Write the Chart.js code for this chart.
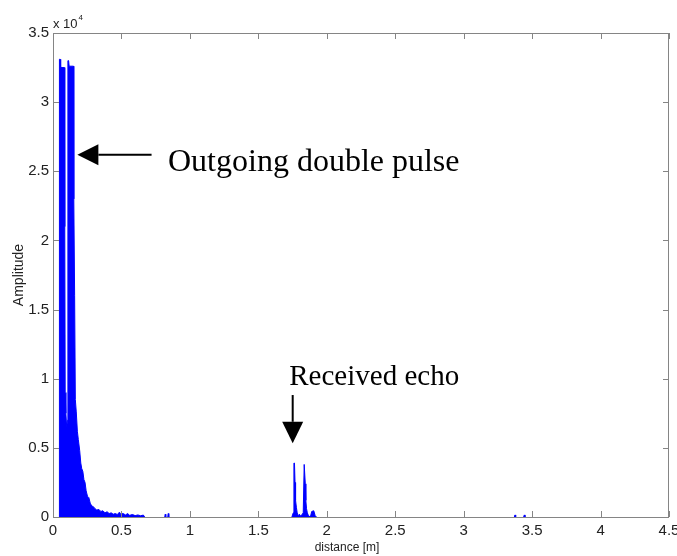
<!DOCTYPE html>
<html>
<head>
<meta charset="utf-8">
<script src="https://cdn.jsdelivr.net/npm/chart.js@4"></script>
<style>
  html, body { margin: 0; padding: 0; background: #fff; }
</style>
</head>
<body>
<canvas id="echoChart" width="677" height="556"></canvas>
<script>
// outgoing double pulse (envelope), distance in m; null = no trace
const pulseDist = [0.045, 0.047, 0.052, 0.056, 0.083, 0.086, 0.089, 0.094, 0.100, 0.106,
  0.109, 0.114, 0.118, 0.150, 0.152, 0.158, 0.163, 0.170, 0.178, 0.185, 0.195, 0.203, 0.210,
  0.218, 0.226, 0.234, 0.242, 0.252, 0.262, 0.272, 0.283, 0.295, 0.307, 0.320, 0.335, 0.350,
  0.365, 0.380, 0.395, 0.410, 0.425, 0.440, 0.455, 0.470, 0.485, 0.495, 0.510, 0.530, 0.545,
  0.560, 0.580, 0.600, 0.620, 0.640, 0.660, 0.670, 0.740,
  0.816, 0.820, 0.824, 0.830, 0.838, 0.842, 0.846, 0.900];
const pulseAmp = [0, 33100, 33100, 32500, 32500, 21000, 9000, 7500, 6500, 7000,
  33000, 33000, 32600, 32600, 23000, 16000, 8500, 7600, 6200, 5600, 4800, 3900, 3500,
  3300, 2700, 2500, 1900, 1500, 1400, 1000, 800, 750, 600, 500, 550, 400,
  450, 300, 380, 250, 300, 200, 250, 180, 350, 200, 260, 150, 250,
  120, 180, 100, 150, 90, 140, 0, null,
  0, 200, 0, null, 0, 250, 0, null];

// received echo and the two tiny blips near 3.4 m
const echoDist = [1.745, 1.755, 1.760, 1.764, 1.768, 1.772, 1.778, 1.784, 1.790, 1.800, 1.810,
  1.828, 1.835, 1.839, 1.843, 1.847, 1.852, 1.858, 1.866, 1.880, 1.890, 1.905, 1.915, 1.925, 2.0,
  3.370, 3.375, 3.380, 3.400, 3.438, 3.443, 3.448];
const echoAmp = [0, 300, 3900, 3900, 2500, 1200, 700, 300, 100, 200, 50,
  300, 3800, 3800, 2400, 1200, 600, 300, 100, 0, 400, 450, 100, 0, null,
  0, 150, 0, null, 0, 150, 0];

const xTicks = [0, 0.5, 1, 1.5, 2, 2.5, 3, 3.5, 4, 4.5];
const yTicks = [0, 5000, 10000, 15000, 20000, 25000, 30000, 35000];

const SANS = '"Liberation Sans", Arial, sans-serif';
const SERIF = '"Liberation Serif", "Times New Roman", serif';
const AXIS = '#858585';

const points = pulseDist.map((d, i) => ({ x: d, y: pulseAmp[i] }))
  .concat(echoDist.map((d, i) => ({ x: d, y: echoAmp[i] })));

function arrow(ctx, x1, y1, x2, y2, head, half) {
  const ang = Math.atan2(y2 - y1, x2 - x1);
  const bx = x2 - head * Math.cos(ang), by = y2 - head * Math.sin(ang);
  ctx.beginPath();
  ctx.moveTo(x1, y1); ctx.lineTo(bx, by);
  ctx.stroke();
  ctx.beginPath();
  ctx.moveTo(x2, y2);
  ctx.lineTo(bx + half * Math.sin(ang), by - half * Math.cos(ang));
  ctx.lineTo(bx - half * Math.sin(ang), by + half * Math.cos(ang));
  ctx.closePath();
  ctx.fill();
}

// box with inward ticks on all sides, axis titles and the two annotations
const matlabFrame = {
  id: 'matlabFrame',
  afterDatasetsDraw(chart) {
    const { ctx, chartArea: a, scales: { x, y } } = chart;
    ctx.save();
    ctx.strokeStyle = AXIS; ctx.lineWidth = 1;
    ctx.strokeRect(a.left + 0.5, a.top + 0.5, a.right - a.left - 1, a.bottom - a.top);
    ctx.beginPath();
    xTicks.forEach(v => {
      const px = Math.round(x.getPixelForValue(v)) + 0.5;
      ctx.moveTo(px, a.bottom); ctx.lineTo(px, a.bottom - 6);
      ctx.moveTo(px, a.top); ctx.lineTo(px, a.top + 6);
    });
    yTicks.forEach(v => {
      const py = Math.round(y.getPixelForValue(v)) + 0.5;
      ctx.moveTo(a.left, py); ctx.lineTo(a.left + 6, py);
      ctx.moveTo(a.right, py); ctx.lineTo(a.right - 6, py);
    });
    ctx.stroke();
    ctx.restore();
  },
  afterDraw(chart) {
    const { ctx, chartArea: a, scales: { x, y } } = chart;
    ctx.save();
    ctx.fillStyle = '#222';
    // exponent
    ctx.font = '13px ' + SANS;
    ctx.textBaseline = 'alphabetic'; ctx.textAlign = 'left';
    ctx.fillText('x 10', a.left, a.top - 5);
    const w = ctx.measureText('x 10').width;
    ctx.font = '8px ' + SANS;
    ctx.fillText('4', a.left + w + 1, a.top - 13);
    // axis titles
    ctx.font = '12px ' + SANS;
    ctx.textAlign = 'center'; ctx.textBaseline = 'middle';
    ctx.fillText('distance [m]', 347, 548);
    ctx.font = '14px ' + SANS;
    ctx.save();
    ctx.translate(19, (a.top + a.bottom) / 2);
    ctx.rotate(-Math.PI / 2);
    ctx.fillText('Amplitude', 0, 0);
    ctx.restore();

    // annotations
    ctx.fillStyle = '#000'; ctx.strokeStyle = '#000'; ctx.lineWidth = 2;
    const oy = y.getPixelForValue(26200);
    arrow(ctx, x.getPixelForValue(0.72), oy, x.getPixelForValue(0.178), oy, 21, 10.5);
    const ex = x.getPixelForValue(1.751);
    arrow(ctx, ex, y.getPixelForValue(8820), ex, y.getPixelForValue(5330), 21.5, 10.5);
    ctx.textAlign = 'left'; ctx.textBaseline = 'alphabetic';
    ctx.font = '32px ' + SERIF;
    ctx.fillText('Outgoing double pulse', x.getPixelForValue(0.84), y.getPixelForValue(25000));
    ctx.font = '29px ' + SERIF;
    ctx.fillText('Received echo', x.getPixelForValue(1.726), y.getPixelForValue(9540));
    ctx.restore();
  }
};

new Chart(document.getElementById('echoChart'), {
  type: 'line',
  data: {
    datasets: [{
      data: points,
      borderColor: '#0000ff',
      backgroundColor: '#0000ff',
      borderWidth: 1,
      pointRadius: 0,
      tension: 0,
      spanGaps: false,
      fill: 'origin'
    }]
  },
  options: {
    responsive: false, animation: false,
    layout: { padding: { top: 33, right: 8, left: 0, bottom: 0 } },
    plugins: { legend: { display: false }, tooltip: { enabled: false } },
    scales: {
      x: {
        type: 'linear', min: 0, max: 4.5,
        grid: { display: false, drawTicks: false }, border: { display: false },
        afterBuildTicks: s => { s.ticks = xTicks.map(v => ({ value: v })); },
        ticks: { color: '#222', font: { family: SANS, size: 15 }, padding: 5,
          maxRotation: 0, autoSkip: false, callback: v => String(v) },
        afterFit: s => { s.height = 39; s.paddingLeft = 0; s.paddingRight = 0; }
      },
      y: {
        min: 0, max: 35000,
        grid: { display: false, drawTicks: false }, border: { display: false },
        afterBuildTicks: s => { s.ticks = yTicks.map(v => ({ value: v })); },
        ticks: { color: '#222', font: { family: SANS, size: 15 }, padding: 4,
          callback: v => String(v / 1e4) },
        afterFit: s => { s.width = 53; s.paddingTop = 0; s.paddingBottom = 0; }
      }
    }
  },
  plugins: [matlabFrame]
});
</script>
</body>
</html>
